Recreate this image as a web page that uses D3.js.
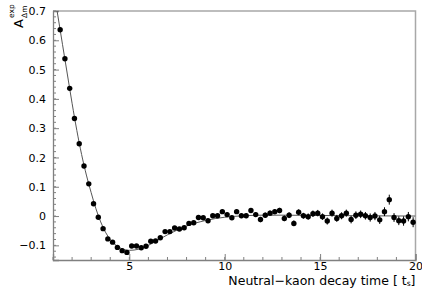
<!DOCTYPE html>
<html>
<head>
<meta charset="utf-8">
<script src="https://cdn.jsdelivr.net/npm/d3@7"></script>
<style>
body{margin:0;background:#fff}
svg{display:block;font-family:"DejaVu Sans",Arial,sans-serif}
</style>
</head>
<body>
<svg width="422" height="288"></svg>
<script>
// bin centres (ts) and measured asymmetry
const t=[1.375,1.625,1.875,2.125,2.375,2.625,2.875,3.125,3.375,3.625,3.875,4.125,4.375,4.625,4.875,5.125,5.375,5.625,5.875,6.125,
6.375,6.625,6.875,7.125,7.375,7.625,7.875,8.125,8.375,8.625,8.875,9.125,9.375,9.625,9.875,10.125,10.375,10.625,10.875,11.125,
11.375,11.625,11.875,12.125,12.375,12.625,12.875,13.125,13.375,13.625,13.875,14.125,14.375,14.625,14.875,15.125,15.375,15.625,15.875,16.125,
16.375,16.625,16.875,17.125,17.375,17.625,17.875,18.125,18.375,18.625,18.875,19.125,19.375,19.625,19.875]
const asym=[0.636,0.537,0.436,0.333,0.247,0.171,0.110,0.042,-0.004,-0.043,-0.078,-0.089,-0.107,-0.118,-0.124,-0.102,-0.102,-0.108,-0.103,-0.086,
-0.085,-0.074,-0.053,-0.053,-0.041,-0.044,-0.040,-0.025,-0.023,-0.005,-0.006,-0.016,0.001,0.001,0.015,0.005,-0.006,0.015,0.001,0.001,
0.019,0.005,-0.012,0.003,0.010,0.015,0.019,-0.008,0.003,-0.025,0.013,0.001,-0.002,0.008,0.010,-0.002,-0.017,0.010,-0.008,0.001,
0.010,-0.012,0.003,0.006,0.001,-0.005,0.000,-0.013,0.015,0.056,-0.005,-0.016,-0.017,-0.002,-0.021]
const err=[0.003,0.003,0.003,0.003,0.003,0.003,0.003,0.003,0.004,0.004,0.004,0.004,0.004,0.004,0.004,0.004,0.005,0.005,0.005,0.005,
0.005,0.005,0.005,0.005,0.006,0.006,0.006,0.006,0.006,0.006,0.006,0.007,0.007,0.007,0.007,0.007,0.007,0.008,0.008,0.008,
0.008,0.008,0.009,0.009,0.009,0.009,0.009,0.010,0.010,0.010,0.010,0.010,0.011,0.011,0.011,0.011,0.012,0.012,0.012,0.012,
0.012,0.013,0.013,0.013,0.013,0.014,0.014,0.014,0.015,0.017,0.015,0.015,0.016,0.016,0.017]
// fitted curve
const fitT=[1.2,1.5,1.75,2.0,2.25,2.5,2.75,3.0,3.25,3.5,3.75,4.0,4.5,5.0,5.5,6.0,6.5,7.0,7.5,8.0,9.0,10.0,11.0,12.0,13.0,15.0,17.0,20.0]
const fitA=[0.706,0.585,0.485,0.385,0.292,0.210,0.140,0.080,0.025,-0.020,-0.055,-0.080,-0.108,-0.117,-0.113,-0.100,-0.082,-0.064,-0.048,-0.034,-0.015,-0.004,0.001,0.003,0.003,0.002,0.001,0.000]
const xTicks=[5,10,15,20]
const yTicks=[-0.1,0,0.1,0.2,0.3,0.4,0.5,0.6,0.7]

const L=53,R=415.5,T=11,B=260
const x=d3.scaleLinear().domain([1,20]).range([L,R])
const y=d3.scaleLinear().domain([-0.15,0.7]).range([B,T])
const svg=d3.select("svg")
const ax="#808080"

svg.append("clipPath").attr("id","c").append("rect").attr("x",L).attr("y",T).attr("width",R-L).attr("height",B-T)

// frame
svg.append("path").attr("d",`M${L},${T}H${R}V${B}`).attr("fill","none").attr("stroke","#a8a8a8").attr("stroke-width",1.5)

// axes
const xa=svg.append("g").attr("transform",`translate(0,${B})`)
  .call(d3.axisBottom(x).tickValues(xTicks).tickSize(-6).tickPadding(2.5).tickFormat(d3.format("d")))
xa.append("g").selectAll("line").data(d3.range(1,20)).join("line")
  .attr("x1",d=>x(d)).attr("x2",d=>x(d)).attr("y1",0).attr("y2",-3)
const ya=svg.append("g").attr("transform",`translate(${L},0)`)
  .call(d3.axisLeft(y).tickValues(yTicks).tickSize(-6).tickPadding(7).tickFormat(d=>d3.format(".1f")(d).replace("-","\u2212").replace(/^0\.0$/,"0")))
ya.append("g").selectAll("line").data(d3.range(-14,71,2).map(d=>d/100)).join("line")
  .attr("x1",0).attr("x2",3).attr("y1",d=>y(d)).attr("y2",d=>y(d))
for(const g of [xa,ya]){
  g.selectAll("path.domain").attr("stroke",ax).attr("stroke-width",1.3)
  g.selectAll("line").attr("stroke",ax)
  g.selectAll("text").attr("font-size",11).attr("fill","#000").attr("font-family","DejaVu Sans,Arial,sans-serif")
}
ya.selectAll(".tick text").attr("x",-7)

// fit line
svg.append("path").datum(fitT.map((d,i)=>[d,fitA[i]]))
  .attr("clip-path","url(#c)")
  .attr("fill","none").attr("stroke","#555").attr("stroke-width",1)
  .attr("d",d3.line().x(d=>x(d[0])).y(d=>y(d[1])).curve(d3.curveMonotoneX))

// points with error bars
const pts=t.map((d,i)=>({t:d,a:asym[i],e:err[i]}))
svg.append("g").selectAll("line").data(pts).join("line")
  .attr("x1",d=>x(d.t)).attr("x2",d=>x(d.t))
  .attr("y1",d=>y(d.a-d.e)).attr("y2",d=>y(d.a+d.e))
  .attr("stroke","#000").attr("stroke-width",1)
svg.append("g").selectAll("circle").data(pts).join("circle")
  .attr("cx",d=>x(d.t)).attr("cy",d=>y(d.a)).attr("r",2.7).attr("fill","#000")

// titles
const xt=svg.append("text").attr("x",R).attr("y",285).attr("text-anchor","end").attr("font-size",12.5)
xt.append("tspan").text("Neutral\u2212kaon decay time [ t")
xt.append("tspan").attr("font-size",7.5).attr("dy",1).text("s")
xt.append("tspan").attr("dy",-1).text("]")
const yt=svg.append("g").attr("transform","translate(23,28) rotate(-90)")
yt.append("text").attr("font-size",13).text("A")
yt.append("text").attr("x",10).attr("y",4).attr("font-size",7.5).text("\u0394m")
yt.append("text").attr("x",10).attr("y",-9).attr("font-size",7.5).text("exp")
</script>
</body>
</html>
